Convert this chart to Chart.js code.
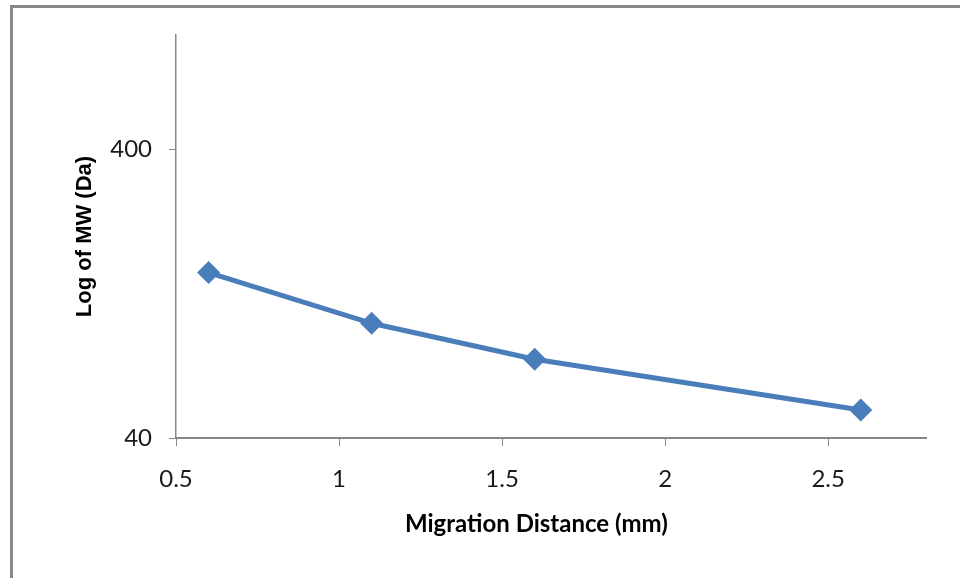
<!DOCTYPE html>
<html>
<head>
<meta charset="utf-8">
<script src="https://cdn.jsdelivr.net/npm/chart.js@4.4.0/dist/chart.umd.min.js"></script>
<style>
  html, body { margin: 0; padding: 0; background: #fff; }
  body { width: 960px; height: 578px; position: relative; overflow: hidden; }
  #frame {
    position: absolute; left: 10px; top: 5px; width: 1000px; height: 700px;
    border-left: 3px solid #878787; border-top: 3px solid #878787;
  }
  #wrap { position: absolute; left: 0; top: 0; width: 960px; height: 578px; }
</style>
</head>
<body>
<div id="frame"></div>
<div id="wrap"><canvas id="chart"></canvas></div>
<script>
const distances = [0.6, 1.1, 1.6, 2.6];
const molWeights = [150, 100, 75, 50];
const xTicks = [0.5, 1, 1.5, 2, 2.5];
const yTicks = [40, 400];

const axisGray = '#868686';
const lineBlue = '#4a7ebb';

const ctx = document.getElementById('chart').getContext('2d');
const chart = new Chart(ctx, {
    type: 'line',
    data: {
        datasets: [{
            data: distances.map((d, i) => ({ x: d, y: molWeights[i] })),
            borderColor: lineBlue,
            backgroundColor: lineBlue,
            borderWidth: 5,
            pointStyle: 'rectRot',
            pointRadius: 8,
            pointHoverRadius: 8,
            tension: 0
        }]
    },
    options: {
        responsive: true,
        maintainAspectRatio: false,
        animation: false,
        layout: { padding: { top: 35, right: 34, left: 0, bottom: 0 } },
        plugins: { legend: { display: false }, tooltip: { enabled: false } },
        scales: {
            x: {
                type: 'linear',
                min: 0.5,
                max: 2.8,
                afterBuildTicks: (scale) => { scale.ticks = xTicks.map(v => ({ value: v })); },
                afterFit: (scale) => { scale.height = 140; },
                border: { color: axisGray, width: 2 },
                grid: { drawOnChartArea: false, color: axisGray, tickLength: 8, lineWidth: 1 },
                ticks: {
                    padding: 19,
                    color: '#1a1a1a',
                    font: { family: 'Lato', size: 24 },
                    maxRotation: 0,
                    callback: (v) => String(v)
                },
                title: {
                    display: true,
                    // trailing spaces nudge the centred title a little left, as in the original
                    text: 'Migration Distance (mm)\u00a0\u00a0\u00a0\u00a0\u00a0',
                    color: '#000',
                    font: { family: 'Lato', size: 24, weight: 'bold' },
                    padding: { top: 0, bottom: 39 }
                }
            },
            y: {
                type: 'logarithmic',
                min: 40,
                max: 1000,
                afterBuildTicks: (scale) => { scale.ticks = yTicks.map(v => ({ value: v })); },
                afterFit: (scale) => { scale.width = 176; },
                border: { color: axisGray, width: 1.5 },
                grid: { drawOnChartArea: false, color: axisGray, tickLength: 7, lineWidth: 1 },
                ticks: {
                    padding: 17,
                    color: '#1a1a1a',
                    font: { family: 'Lato', size: 24 },
                    callback: (v) => String(v)
                },
                title: {
                    display: true,
                    text: 'Log of MW (Da)',
                    color: '#000',
                    font: { family: 'Liberation Sans', size: 22, weight: 'bold' },
                    padding: { top: 72, bottom: 0 }
                }
            }
        }
    }
});
</script>
</body>
</html>
